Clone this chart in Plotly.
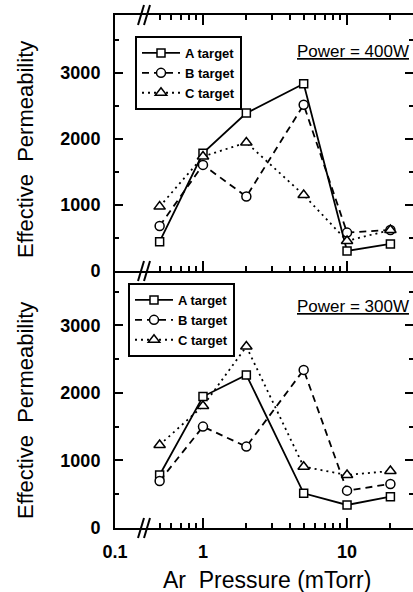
import math
import plotly.graph_objects as go

# Ar pressure (mTorr) at which the films were sputtered
pressure = [0.5, 1, 2, 5, 10, 20]

# Effective permeability, sputtering power 400 W
a_400 = [445, 1786, 2393, 2838, 303, 410]
b_400 = [683, 1608, 1128, 2519, 582, 622]
c_400 = [976, 1735, 1947, 1153, 455, 622]

# Effective permeability, sputtering power 300 W
a_300 = [785, 1946, 2267, 514, 341, 464]
b_300 = [696, 1501, 1205, 2341, 553, 652]
c_300 = [1230, 1807, 2686, 908, 785, 844]

series_names = ["A target", "B target", "C target"]
panel_labels = ["Power = 400W", "Power = 300W"]

# broken log axis: the left end carries the "0.1" label
x_axis_start = 0.245
x_axis_end = 28.7
x_tick_vals = [x_axis_start, 1, 10]
x_tick_text = ["0.1", "1", "10"]
x_minor_vals = [0.5, 0.6, 0.7, 0.8, 0.9, 2, 3, 4, 5, 6, 7, 8, 9, 20]
y_tick_vals = [0, 1000, 2000, 3000]
y_tick_text = ["0", "1000", "2000", "3000"]
y_max_upper = 3880
y_max_lower = 3805

FONT = "Liberation Sans, Arial, Helvetica, sans-serif"
W, H = 413, 592
L, R, T, B = 115, 0, 15, 64
PW, PH = W - L - R, H - T - B
split = (528 - 271) / PH


def px(xp):
    return (xp - L) / PW


def py(yp):
    return (H - B - yp) / PH


styles = [
    dict(symbol="square", size=8, dash="solid"),
    dict(symbol="circle", size=9, dash="7px,5px"),
    dict(symbol="triangle-up", size=10, dash="2px,4px"),
]

fig = go.Figure()
panels = [
    ("x", "y", "legend", [a_400, b_400, c_400]),
    ("x2", "y2", "legend2", [a_300, b_300, c_300]),
]
for xa, ya, lg, series in panels:
    for name, vals, st in zip(series_names, series, styles):
        fig.add_trace(go.Scatter(
            x=pressure, y=vals, name=name, xaxis=xa, yaxis=ya, legend=lg,
            mode="lines+markers",
            line=dict(color="black", width=1.8, dash=st["dash"]),
            marker=dict(symbol=st["symbol"], size=st["size"], color="white",
                        line=dict(color="black", width=1.5)),
        ))

tickfont = dict(family=FONT, size=18, color="black", weight="bold")


def x_axis(**kw):
    d = dict(
        type="log", range=[math.log10(x_axis_start), math.log10(x_axis_end)],
        showgrid=False, zeroline=False, showline=True, linecolor="black",
        linewidth=2, ticks="inside", ticklen=10, tickwidth=2, tickcolor="black",
        tickmode="array", tickvals=x_tick_vals, ticktext=x_tick_text,
        tickfont=tickfont, ticklabelstandoff=6,
        minor=dict(tickmode="array", tickvals=x_minor_vals, ticks="inside",
                   ticklen=5, tickwidth=1.5, tickcolor="black"),
    )
    d.update(kw)
    return d


def y_axis(top, **kw):
    d = dict(
        range=[0, top], showgrid=False, zeroline=False, showline=True,
        linecolor="black", linewidth=2, ticks="inside", ticklen=8,
        tickwidth=2, tickcolor="black", tickmode="array",
        tickvals=y_tick_vals, ticktext=y_tick_text, tickfont=tickfont,
        ticklabelstandoff=9, mirror="ticks",
        minor=dict(dtick=500, tick0=0, ticks="inside", ticklen=4,
                   tickwidth=1.5, tickcolor="black"),
    )
    d.update(kw)
    return d


legend_style = dict(
    bgcolor="white", bordercolor="black", borderwidth=2,
    font=dict(family=FONT, size=13, color="black", weight="bold"),
    xanchor="left", yanchor="top", tracegroupgap=0, itemwidth=38,
)

fig.update_layout(
    width=W, height=H, margin=dict(l=L, r=R, t=T, b=B, autoexpand=False),
    paper_bgcolor="white", plot_bgcolor="white",
    font=dict(family=FONT, color="black"),
    # the upper panel's bottom line is shared with the lower panel's top
    xaxis=x_axis(anchor="y", domain=[0, 1], showticklabels=False,
                 mirror="ticks"),
    xaxis2=x_axis(anchor="y2", domain=[0, 1], mirror=False),
    yaxis=y_axis(y_max_upper, anchor="x", domain=[split, 1]),
    yaxis2=y_axis(y_max_lower, anchor="x2", domain=[0, split]),
    legend=dict(legend_style, x=px(135), y=py(36)),
    legend2=dict(legend_style, x=px(128), y=py(283)),
    showlegend=True,
)

# axis titles and panel labels
title_font = dict(family=FONT, size=22, color="black")
for yc in (150, 411):
    fig.add_annotation(text="Effective  Permeability", xref="paper",
                       yref="paper", x=px(25), y=py(yc), textangle=-90,
                       showarrow=False, xanchor="center", yanchor="middle",
                       font=title_font)
fig.add_annotation(text="Ar  Pressure (mTorr)", xref="paper", yref="paper",
                   x=px(267), y=py(580), showarrow=False, xanchor="center",
                   yanchor="middle", font=dict(title_font, size=23))
for label, yc in zip(panel_labels, (51, 306)):
    fig.add_annotation(text="<u>" + label + "</u>", xref="paper",
                       yref="paper", x=px(411), y=py(yc), showarrow=False,
                       xanchor="right", yanchor="middle",
                       font=dict(family=FONT, size=17, color="black"))

# "//" axis-break marks on the log axes
for yb in (15, 271, 528):
    for off in (-3, 3):
        fig.add_shape(type="line", xref="paper", yref="paper",
                      xsizemode="pixel", ysizemode="pixel",
                      xanchor=px(144), yanchor=py(yb),
                      x0=off - 3, x1=off + 3, y0=-10, y1=10,
                      line=dict(color="black", width=2))

fig.write_html("out.html")
